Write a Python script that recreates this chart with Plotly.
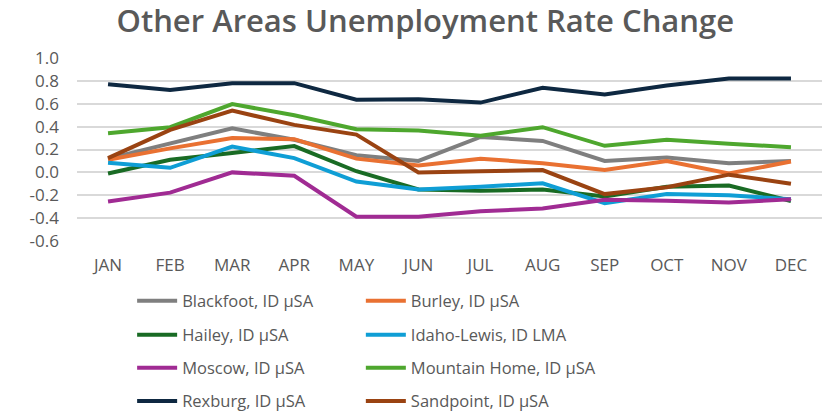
import plotly.graph_objects as go

months = ['JAN', 'FEB', 'MAR', 'APR', 'MAY', 'JUN',
          'JUL', 'AUG', 'SEP', 'OCT', 'NOV', 'DEC']

blackfoot = [0.12, 0.25, 0.385, 0.285, 0.15, 0.10, 0.31, 0.275, 0.10, 0.13, 0.08, 0.10]
burley = [0.11, 0.21, 0.30, 0.29, 0.12, 0.06, 0.12, 0.08, 0.02, 0.10, -0.01, 0.095]
hailey = [-0.01, 0.11, 0.17, 0.23, 0.01, -0.15, -0.16, -0.15, -0.21, -0.125, -0.115, -0.25]
idaho_lewis = [0.085, 0.04, 0.225, 0.125, -0.08, -0.15, -0.125, -0.095, -0.27, -0.19, -0.20, -0.235]
moscow = [-0.255, -0.177, 0.0, -0.03, -0.387, -0.387, -0.34, -0.315, -0.24, -0.247, -0.264, -0.235]
mountain_home = [0.343, 0.395, 0.597, 0.50, 0.378, 0.366, 0.32, 0.395, 0.232, 0.285, 0.25, 0.22]
rexburg = [0.77, 0.72, 0.78, 0.78, 0.635, 0.64, 0.61, 0.74, 0.68, 0.76, 0.82, 0.82]
sandpoint = [0.124, 0.372, 0.54, 0.415, 0.33, 0.0, 0.01, 0.02, -0.19, -0.13, -0.02, -0.10]

names = ['Blackfoot, ID µSA', 'Burley, ID µSA', 'Hailey, ID µSA',
         'Idaho-Lewis, ID LMA', 'Moscow, ID µSA', 'Mountain Home, ID µSA',
         'Rexburg, ID µSA', 'Sandpoint, ID µSA']
values = [blackfoot, burley, hailey, idaho_lewis,
          moscow, mountain_home, rexburg, sandpoint]
colors = ['#7f7f7f', '#e97132', '#196b24', '#0f9ed5',
          '#a02b93', '#4ea72e', '#0e2841', '#9a4312']

yticks = [-0.6, -0.4, -0.2, 0.0, 0.2, 0.4, 0.6, 0.8, 1.0]

font = 'Open Sans, Noto Sans, sans-serif'
grey = '#595959'

# each entry gets its own legend, laid out two per row like the reference
legend_cols = [0.074, 0.381]
legend_rows = [0.273, 0.191, 0.111, 0.031]

fig = go.Figure()
legends = {}
for i, (name, vals, color) in enumerate(zip(names, values, colors)):
    key = 'legend' if i == 0 else f'legend{i + 1}'
    fig.add_trace(go.Scatter(x=months, y=vals, name=name, mode='lines',
                             line=dict(color=color, width=4),
                             legend=key, showlegend=True))
    legends[key] = dict(x=legend_cols[i % 2], xanchor='left',
                        y=legend_rows[i // 2], yref='container',
                        yanchor='middle', itemwidth=40,
                        font=dict(family=font, size=16.5, color=grey),
                        bgcolor='rgba(0,0,0,0)')

fig.update_layout(
    width=829, height=414,
    showlegend=True,
    margin=dict(l=77, r=7, t=58, b=173, autoexpand=False),
    paper_bgcolor='white', plot_bgcolor='white',
    title=dict(text='Other Areas Unemployment Rate Change',
               x=0.513, xanchor='center', y=0.95, yanchor='middle',
               font=dict(family=font, size=31, color=grey, weight=600)),
    xaxis=dict(type='category', range=[-0.5, 11.5], showgrid=False,
               showline=False, ticks='', ticklabelstandoff=12,
               tickfont=dict(family=font, size=17, color=grey)),
    yaxis=dict(range=[-0.6, 1.0], tickvals=yticks,
               ticktext=[f'{v:.1f}' for v in yticks],
               showgrid=True, gridcolor='#d9d9d9', gridwidth=1.5,
               zeroline=False, showline=False, ticks='', ticklabelstandoff=17,
               tickfont=dict(family=font, size=17, color=grey)),
    **legends,
)

# drop the browser's default body margin so the figure sits at the page corner
fig.write_html('out.html', config={'displayModeBar': False},
               post_script="document.body.style.margin='0';")
